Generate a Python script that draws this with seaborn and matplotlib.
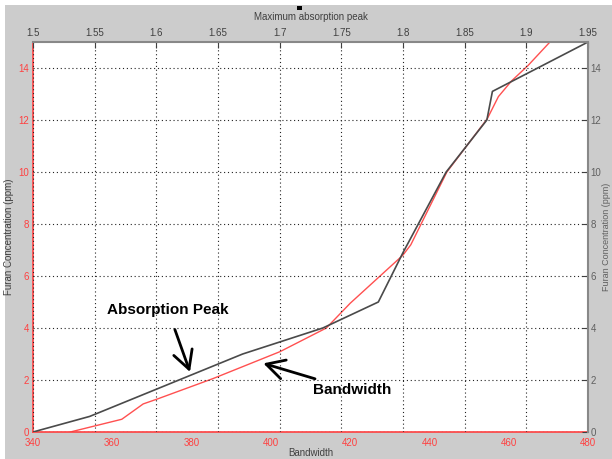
# furan concentration vs absorption peak / bandwidth
import pandas as pd
import seaborn as sns
import matplotlib.pyplot as plt
from matplotlib.patches import Rectangle

# absorption peak curve (top x axis, right y axis)
peak_pos = [1.5, 1.546, 1.67, 1.735, 1.78, 1.80, 1.835, 1.868, 1.8725, 1.95]
peak_conc = [0, 0.6, 3.0, 4.0, 5.0, 6.9, 10.0, 12.0, 13.1, 15.0]

# bandwidth curve (bottom x axis, left y axis)
bandwidth = [349.4, 362.4, 367.8, 371.2, 385.5, 402.3, 414.0, 420.0, 433.3,
             435.3, 444.4, 454.6, 457.4, 460.7, 464.9, 470.4]
bw_conc = [0, 0.49, 1.08, 1.26, 2.06, 3.09, 4.0, 4.95, 6.8,
           7.2, 10.0, 12.05, 12.9, 13.5, 14.1, 15.0]

peak_ticks = [1.5, 1.55, 1.6, 1.65, 1.7, 1.75, 1.8, 1.85, 1.9, 1.95]
bw_ticks = [340, 360, 380, 400, 420, 440, 460, 480]
conc_ticks = [0, 2, 4, 6, 8, 10, 12, 14]

df_peak = pd.DataFrame({"peak": peak_pos, "conc": peak_conc})
df_bw = pd.DataFrame({"bw": bandwidth, "conc": bw_conc})

sns.set_style("white")
plt.rcParams["font.family"] = ["Liberation Sans", "DejaVu Sans"]

RED = "#ff4040"
GREY = "#404040"

fig = plt.figure(figsize=(6.12, 4.59), dpi=100, facecolor="white")
fig.add_artist(Rectangle((5 / 612, 0), 607 / 612, 454 / 459, transform=fig.transFigure,
                         facecolor="#cccccc", edgecolor="none", zorder=-5))

pos = [33 / 612, 27 / 459, 555 / 612, 390 / 459]
ax1 = fig.add_axes(pos)
ax2 = fig.add_axes(pos)
ax2.set_facecolor("none")
ax1.set_facecolor("white")

# BANDWIDTH LINE (red, bottom/left)
sns.lineplot(x="bw", y="conc", data=df_bw, ax=ax1, color="#ff5050", lw=1.0, sort=False)
ax1.set_xlim(340, 480)
ax1.set_ylim(0, 15)
ax1.set_xticks(bw_ticks)
ax1.set_yticks(conc_ticks)
ax1.tick_params(axis="both", direction="in", colors=RED, length=4, labelsize=7, pad=3)
ax1.tick_params(axis="x", length=6, pad=4)
for s in ["top", "right"]:
    ax1.spines[s].set_visible(False)
for s in ["left", "bottom"]:
    ax1.spines[s].set_color(RED)
    ax1.spines[s].set_linewidth(1.2)
ax1.set_xlabel("Bandwidth", fontsize=7, color=GREY, labelpad=0)
ax1.set_ylabel("Furan Concentration (ppm)", fontsize=7, color=GREY, labelpad=3)

# ABSORPTION PEAK LINE (dark, top/right)
sns.lineplot(x="peak", y="conc", data=df_peak, ax=ax2, color="#4a4a4a", lw=1.2, sort=False)
ax2.set_xlim(1.5, 1.95)
ax2.set_ylim(0, 15)
ax2.set_xticks(peak_ticks)
ax2.set_xticklabels([f"{t:g}" for t in peak_ticks])
ax2.set_yticks(conc_ticks)
ax2.xaxis.tick_top()
ax2.yaxis.tick_right()
ax2.xaxis.set_label_position("top")
ax2.yaxis.set_label_position("right")
ax2.tick_params(axis="both", direction="in", colors=GREY, length=4, labelsize=7, pad=3)
ax2.tick_params(axis="y", labelcolor="#606060", pad=2)
ax2.grid(True, linestyle=(0, (1, 2.5)), color="#222222", lw=0.8)
for s in ["left", "bottom"]:
    ax2.spines[s].set_visible(False)
for s in ["top", "right"]:
    ax2.spines[s].set_color("#888888")
    ax2.spines[s].set_linewidth(1.5)
ax2.set_xlabel("Maximum absorption peak", fontsize=7, color=GREY, labelpad=6)
ax2.set_ylabel("Furan Concentration (ppm)", fontsize=6.5, color="#606060", rotation=90,
               va="center")
ax2.yaxis.set_label_coords((606.5 - 33) / 555, 0.5)

# small black marker above the top label
fig.add_artist(Rectangle((297 / 612, 1 - 10 / 459), 4.5 / 612, 4.5 / 459,
                         transform=fig.transFigure, facecolor="black", edgecolor="none"))

# ANNOTATIONS
arrow = dict(arrowstyle="->,head_length=0.65,head_width=0.35", mutation_scale=20,
             lw=2, color="black", shrinkB=0)
ax2.annotate("Absorption Peak", xy=(1.6273, 2.31), xytext=(1.6094, 4.69),
             ha="center", va="center", fontsize=11, fontweight="bold", color="black",
             arrowprops=dict(arrow, shrinkA=7))
ax1.annotate("Bandwidth", xy=(398.1, 2.64), xytext=(410.6, 1.62),
             ha="left", va="center", fontsize=11, fontweight="bold", color="black",
             arrowprops=dict(arrow, shrinkA=2))

ax1.set_zorder(1)
ax2.set_zorder(2)

plt.savefig("out.png", dpi=100, facecolor=fig.get_facecolor())
